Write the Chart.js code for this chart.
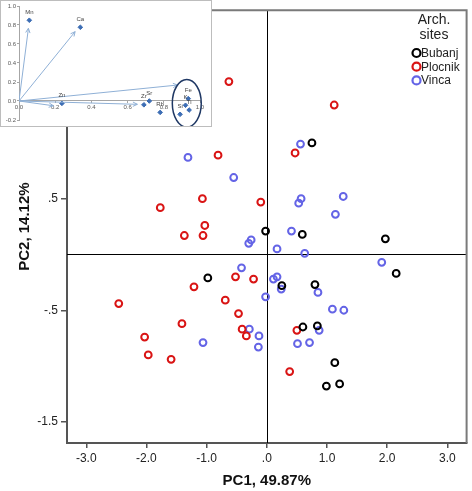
<!DOCTYPE html>
<html>
<head>
<meta charset="utf-8">
<script src="https://cdn.jsdelivr.net/npm/chart.js@4/dist/chart.umd.min.js"></script>
<style>
  html, body { margin: 0; padding: 0; background: #fff; }
  #wrap { position: relative; width: 472px; height: 491px; }
  #mainChart { position: absolute; left: 0; top: 0; }
  #insetChart { position: absolute; left: 0; top: 0; }
</style>
</head>
<body>
<div id="wrap">
  <canvas id="mainChart" width="472" height="491"></canvas>
  <canvas id="insetChart" width="212" height="127"></canvas>
</div>
<script>
// PCA scores (PC1, PC2)
const siteNames = ['Bubanj', 'Plocnik', 'Vinca'];
const siteColors = ['#000000', '#d91414', '#6464e6'];

const bubanjX = [0.75, -0.02, 0.59, 1.97, 2.15, -0.98, 0.25, 0.80, 0.60, 0.84, 1.13, 0.99, 1.21];
const bubanjY = [1.00, 0.21, 0.18, 0.14, -0.17, -0.21, -0.28, -0.27, -0.65, -0.64, -0.97, -1.18, -1.16];

const plocnikX = [-0.63, 1.12, 0.47, -0.81, -1.07, -1.77, -1.03, -1.37, -1.06, -0.10, -1.21, -0.52,
                  -0.22, -0.69, -2.46, -0.47, -1.41, -0.41, -0.34, 0.50, -2.03, -1.97, -1.59, 0.38];
const plocnikY = [1.55, 1.34, 0.91, 0.89, 0.50, 0.42, 0.26, 0.17, 0.17, 0.47, -0.29, -0.20,
                  -0.22, -0.41, -0.44, -0.53, -0.62, -0.67, -0.73, -0.68, -0.74, -0.90, -0.94, -1.05];

const vincaX = [-1.31, -0.55, 0.56, 0.57, 0.53, 1.27, 1.14, 0.41, -0.26, -0.30, 0.17, 0.63, 1.91, -0.42,
                0.11, 0.17, 0.24, -0.02, 0.85, 1.09, 1.28, -0.29, -0.13, -0.14, 0.87, 0.51, 0.71, -1.06];
const vincaY = [0.87, 0.69, 0.99, 0.50, 0.46, 0.52, 0.36, 0.21, 0.13, 0.10, 0.05, 0.01, -0.07, -0.12,
                -0.22, -0.20, -0.31, -0.38, -0.34, -0.49, -0.50, -0.67, -0.73, -0.83, -0.68, -0.80, -0.79, -0.79];

const xTicks = [-3, -2, -1, 0, 1, 2, 3];
const yTicks = [-1.5, -0.5, 0.5, 1.5];

// loadings inset (small Excel plot in the corner)
const elemNames = ['Mn', 'Ca', 'Zn', 'Zr', 'Sr', 'Rb', 'Fe', 'K', 'Ti', 'Si'];
const loadX = [0.057, 0.339, 0.237, 0.69, 0.72, 0.78, 0.935, 0.92, 0.94, 0.89];
const loadY = [0.85, 0.776, -0.025, -0.04, 0.0, -0.12, 0.025, -0.045, -0.095, -0.14];
const arrowX = [0.052, 0.31, 0.876, 0.19, 0.654];
const arrowY = [0.765, 0.73, 0.168, -0.05, -0.035];
const insetXTicks = [0, 0.2, 0.4, 0.6, 0.8, 1.0];
const insetYTicks = [-0.2, 0, 0.2, 0.4, 0.6, 0.8, 1.0];

const FONT = "'Liberation Sans', Arial, sans-serif";

function toPoints(xs, ys) {
    return xs.map((x, i) => ({ x: x, y: ys[i] }));
}

// SPSS style labels: ".5", "-.5", "1.0"
function spssLabel(v) {
    return (Math.round(v * 10) / 10).toFixed(1).replace(/^(-?)0\./, '$1.');
}

const mainPlugin = {
    id: 'mainDecor',
    beforeDatasetsDraw(chart) {
        const { ctx, chartArea: a, scales } = chart;
        const x0 = scales.x.getPixelForValue(0);
        const y0 = scales.y.getPixelForValue(0);
        ctx.save();
        ctx.strokeStyle = '#000';
        ctx.lineWidth = 1;
        ctx.beginPath();
        ctx.moveTo(Math.round(x0) + 0.5, a.top);
        ctx.lineTo(Math.round(x0) + 0.5, a.bottom);
        ctx.moveTo(a.left, Math.round(y0) + 0.5);
        ctx.lineTo(a.right, Math.round(y0) + 0.5);
        ctx.stroke();
        ctx.restore();
    },
    afterDraw(chart) {
        const { ctx, chartArea: a } = chart;
        ctx.save();
        // top and right frame
        ctx.strokeStyle = '#7a7a7a';
        ctx.lineWidth = 2;
        ctx.beginPath();
        ctx.moveTo(a.left, a.top);
        ctx.lineTo(a.right, a.top);
        ctx.lineTo(a.right, a.bottom);
        ctx.stroke();

        // legend
        ctx.fillStyle = '#222';
        ctx.font = '14px ' + FONT;
        ctx.textAlign = 'center';
        ctx.textBaseline = 'middle';
        ctx.fillText('Arch.', 434, 20);
        ctx.fillText('sites', 434, 35);
        ctx.font = '12px ' + FONT;
        ctx.textAlign = 'left';
        chart.data.datasets.forEach((ds, i) => {
            const cy = 53 + i * 13.7;
            ctx.beginPath();
            ctx.strokeStyle = ds.borderColor;
            ctx.lineWidth = 2.2;
            ctx.arc(416.5, cy, 4, 0, Math.PI * 2);
            ctx.stroke();
            ctx.fillStyle = '#222';
            ctx.fillText(ds.label, 421, cy + 0.5);
        });
        ctx.restore();
    }
};

const mainChart = new Chart(document.getElementById('mainChart'), {
    type: 'scatter',
    data: {
        datasets: [
            { label: siteNames[0], data: toPoints(bubanjX, bubanjY), borderColor: siteColors[0] },
            { label: siteNames[1], data: toPoints(plocnikX, plocnikY), borderColor: siteColors[1] },
            { label: siteNames[2], data: toPoints(vincaX, vincaY), borderColor: siteColors[2] }
        ].map(ds => Object.assign(ds, {
            backgroundColor: 'rgba(0,0,0,0)',
            pointRadius: 3.4,
            pointBorderWidth: 2,
            pointHoverRadius: 3.4
        }))
    },
    options: {
        responsive: false,
        animation: false,
        events: [],
        layout: { padding: { top: 7, right: 3, left: 0, bottom: 0 } },
        plugins: { legend: { display: false }, tooltip: { enabled: false } },
        scales: {
            x: {
                type: 'linear',
                min: -3.32,
                max: 3.32,
                afterBuildTicks: s => { s.ticks = xTicks.map(v => ({ value: v })); },
                afterFit: s => { s.height = 48; },
                ticks: { callback: spssLabel, color: '#222', font: { size: 12, family: FONT }, padding: 3, maxRotation: 0 },
                grid: { drawOnChartArea: false, tickLength: 5, color: '#555', lineWidth: 1.5 },
                border: { color: '#555', width: 2 },
                title: { display: true, text: 'PC1, 49.87%', color: '#111',
                         font: { size: 15, weight: 'bold', family: FONT }, padding: { top: 0, bottom: 1 } }
            },
            y: {
                type: 'linear',
                min: -1.69,
                max: 2.19,
                afterBuildTicks: s => { s.ticks = yTicks.map(v => ({ value: v })); },
                afterFit: s => { s.width = 67; },
                ticks: { callback: spssLabel, color: '#222', font: { size: 12, family: FONT }, padding: 3 },
                grid: { drawOnChartArea: false, tickLength: 6, color: '#555', lineWidth: 1.5 },
                border: { color: '#555', width: 2 },
                title: { display: true, text: 'PC2, 14.12%', color: '#111',
                         font: { size: 15, weight: 'bold', family: FONT }, padding: { top: 16, bottom: 0 } }
            }
        }
    },
    plugins: [mainPlugin]
});

// inset: arrows, element labels, ellipse
const insetPlugin = {
    id: 'insetDecor',
    beforeDraw(chart) {
        const { ctx, width, height } = chart;
        ctx.save();
        ctx.fillStyle = '#fff';
        ctx.fillRect(0, 0, width, height);
        ctx.restore();
    },
    afterDatasetsDraw(chart) {
        const { ctx, scales: { x, y } } = chart;
        ctx.save();
        // open arrow heads at the tips
        ctx.strokeStyle = '#8fb0d6';
        ctx.lineWidth = 1;
        chart.data.datasets.forEach((ds, i) => {
            if (!ds.isArrow) return;
            const pts = chart.getDatasetMeta(i).data;
            const p0 = pts[0], p1 = pts[1];
            const ang = Math.atan2(p1.y - p0.y, p1.x - p0.x);
            const L = 5;
            ctx.beginPath();
            ctx.moveTo(p1.x - L * Math.cos(ang - 0.45), p1.y - L * Math.sin(ang - 0.45));
            ctx.lineTo(p1.x, p1.y);
            ctx.lineTo(p1.x - L * Math.cos(ang + 0.45), p1.y - L * Math.sin(ang + 0.45));
            ctx.stroke();
        });
        // element names above points
        ctx.fillStyle = '#444';
        ctx.font = '6px ' + FONT;
        ctx.textAlign = 'center';
        ctx.textBaseline = 'middle';
        elemNames.forEach((n, i) => {
            ctx.fillText(n, x.getPixelForValue(loadX[i]), y.getPixelForValue(loadY[i]) - 8);
        });
        // ellipse round the Fe group
        const cx = x.getPixelForValue(0.927), cy = y.getPixelForValue(-0.024);
        const rx = x.getPixelForValue(0.927 + 0.08) - cx;
        const ry = cy - y.getPixelForValue(-0.024 + 0.25);
        ctx.strokeStyle = '#1f3864';
        ctx.lineWidth = 1.5;
        ctx.beginPath();
        ctx.ellipse(cx, cy, rx, ry, 0, 0, Math.PI * 2);
        ctx.stroke();
        // frame
        ctx.strokeStyle = '#bdbdbd';
        ctx.lineWidth = 1;
        ctx.strokeRect(0.5, 0.5, chart.width - 1, chart.height - 1);
        ctx.restore();
    }
};

const insetDatasets = arrowX.map((ax, i) => ({
    type: 'line',
    isArrow: true,
    data: [{ x: 0, y: 0 }, { x: ax, y: arrowY[i] }],
    borderColor: '#8fb0d6',
    borderWidth: 1,
    pointRadius: 0
}));
insetDatasets.push({
    type: 'scatter',
    data: toPoints(loadX, loadY),
    pointStyle: 'rectRot',
    pointRadius: 2.3,
    backgroundColor: '#3c6db4',
    borderColor: '#3c6db4',
    borderWidth: 1
});

const insetChart = new Chart(document.getElementById('insetChart'), {
    type: 'scatter',
    data: { datasets: insetDatasets },
    options: {
        responsive: false,
        animation: false,
        events: [],
        layout: { padding: { top: 6, right: 12, bottom: 7, left: 0 } },
        plugins: { legend: { display: false }, tooltip: { enabled: false } },
        scales: {
            x: {
                type: 'linear',
                min: 0,
                max: 1,
                position: { y: 0 },
                afterBuildTicks: s => { s.ticks = insetXTicks.map(v => ({ value: v })); },
                ticks: { callback: v => v.toFixed(1), color: '#595959', font: { size: 6, family: FONT }, padding: 1, maxRotation: 0 },
                grid: { drawOnChartArea: false, tickLength: 2, color: '#a6a6a6' },
                border: { color: '#a6a6a6', width: 1 }
            },
            y: {
                type: 'linear',
                min: -0.2,
                max: 1.0,
                afterBuildTicks: s => { s.ticks = insetYTicks.map(v => ({ value: v })); },
                afterFit: s => { s.width = 19; },
                ticks: { callback: v => v.toFixed(1), color: '#595959', font: { size: 6, family: FONT }, padding: 1 },
                grid: { drawOnChartArea: false, tickLength: 2, color: '#a6a6a6' },
                border: { color: '#a6a6a6', width: 1 }
            }
        }
    },
    plugins: [insetPlugin]
});
</script>
</body>
</html>
